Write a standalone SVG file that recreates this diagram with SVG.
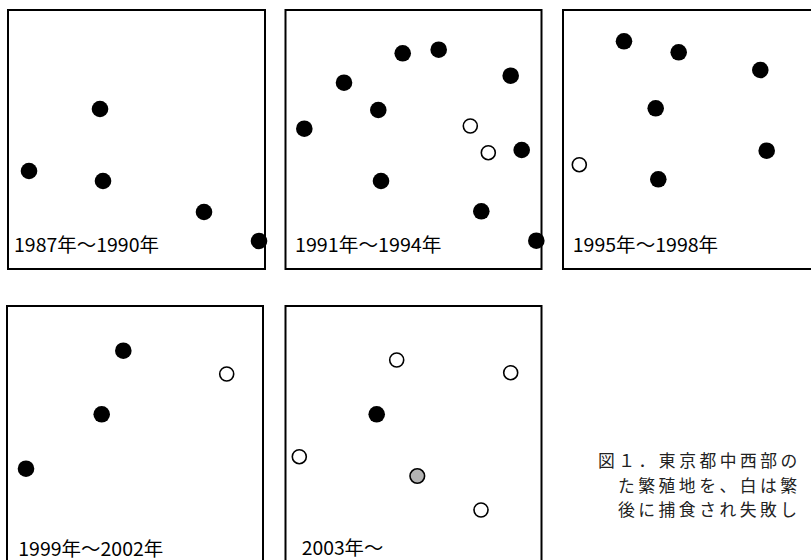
<svg xmlns="http://www.w3.org/2000/svg" width="811" height="560" viewBox="0 0 811 560">
<style>
.box{fill:#fff;stroke:#000;stroke-width:2}
.f{fill:#000}
.o{fill:#fff;stroke:#000;stroke-width:1.6}
.g{fill:#b3b3b3;stroke:#000;stroke-width:1.6}
.lbl{font-family:"Noto Sans CJK JP","Liberation Sans",sans-serif;font-size:19px;fill:#000}
.cap{font-family:"Noto Sans CJK JP","Liberation Sans",sans-serif;font-size:16.8px;letter-spacing:3.5px;fill:#222}
</style>
<rect width="811" height="560" fill="#fff"/>
<g id="panel1">
<rect class="box" x="8" y="10" width="257" height="259"/>
<circle class="f" cx="100" cy="109" r="8.3"/>
<circle class="f" cx="29" cy="171" r="8.3"/>
<circle class="f" cx="103" cy="181" r="8.3"/>
<circle class="f" cx="204" cy="212" r="8.3"/>
<circle class="f" cx="259" cy="241" r="8.3"/>
<text class="lbl" x="14" y="252" textLength="145" lengthAdjust="spacingAndGlyphs">1987年～1990年</text>
</g>
<g id="panel2">
<rect class="box" x="285.5" y="10" width="256" height="259"/>
<circle class="f" cx="402.7" cy="53.3" r="8.3"/>
<circle class="f" cx="438.7" cy="49.7" r="8.3"/>
<circle class="f" cx="344" cy="82.7" r="8.3"/>
<circle class="f" cx="510.7" cy="75.7" r="8.3"/>
<circle class="f" cx="378.3" cy="110" r="8.3"/>
<circle class="f" cx="304.3" cy="128.7" r="8.3"/>
<circle class="o" cx="470.3" cy="126" r="7"/>
<circle class="o" cx="488.3" cy="152.7" r="7"/>
<circle class="f" cx="521.7" cy="150" r="8.3"/>
<circle class="f" cx="381" cy="181" r="8.3"/>
<circle class="f" cx="481.3" cy="211.3" r="8.3"/>
<circle class="f" cx="536.3" cy="240.7" r="8.3"/>
<text class="lbl" x="295" y="252" textLength="146.5" lengthAdjust="spacingAndGlyphs">1991年～1994年</text>
</g>
<g id="panel3">
<rect class="box" x="563" y="10" width="260" height="259"/>
<circle class="f" cx="624" cy="41.3" r="8.3"/>
<circle class="f" cx="678.7" cy="52.3" r="8.3"/>
<circle class="f" cx="760.3" cy="70" r="8.3"/>
<circle class="f" cx="655.7" cy="108.3" r="8.3"/>
<circle class="o" cx="579.3" cy="164.7" r="7"/>
<circle class="f" cx="766.7" cy="150.7" r="8.3"/>
<circle class="f" cx="658.3" cy="179.3" r="8.3"/>
<text class="lbl" x="572.7" y="252" textLength="145.5" lengthAdjust="spacingAndGlyphs">1995年～1998年</text>
</g>
<g id="panel4">
<rect class="box" x="7" y="306" width="256" height="270"/>
<circle class="f" cx="123.3" cy="350.7" r="8.3"/>
<circle class="o" cx="226.7" cy="374" r="7"/>
<circle class="f" cx="101.7" cy="414.3" r="8.3"/>
<circle class="f" cx="26" cy="468.7" r="8.3"/>
<text class="lbl" x="18.3" y="556" textLength="145" lengthAdjust="spacingAndGlyphs">1999年～2002年</text>
</g>
<g id="panel5">
<rect class="box" x="285.5" y="306" width="256" height="270"/>
<circle class="o" cx="396.7" cy="360" r="7"/>
<circle class="o" cx="510.7" cy="372.7" r="7"/>
<circle class="f" cx="376.7" cy="414.3" r="8.3"/>
<circle class="o" cx="299.3" cy="456.7" r="7"/>
<circle class="g" cx="417.3" cy="476" r="7.3"/>
<circle class="o" cx="481" cy="510" r="7"/>
<text class="lbl" x="301.7" y="555" textLength="81.6" lengthAdjust="spacingAndGlyphs">2003年～</text>
</g>
<g id="caption">
<text class="cap" x="598" y="467">図１．東京都中西部の</text>
<text class="cap" x="618" y="491.5">た繁殖地を、白は繁</text>
<text class="cap" x="618" y="516">後に捕食され失敗し</text>
</g>
<g id="connectors"/>
</svg>
